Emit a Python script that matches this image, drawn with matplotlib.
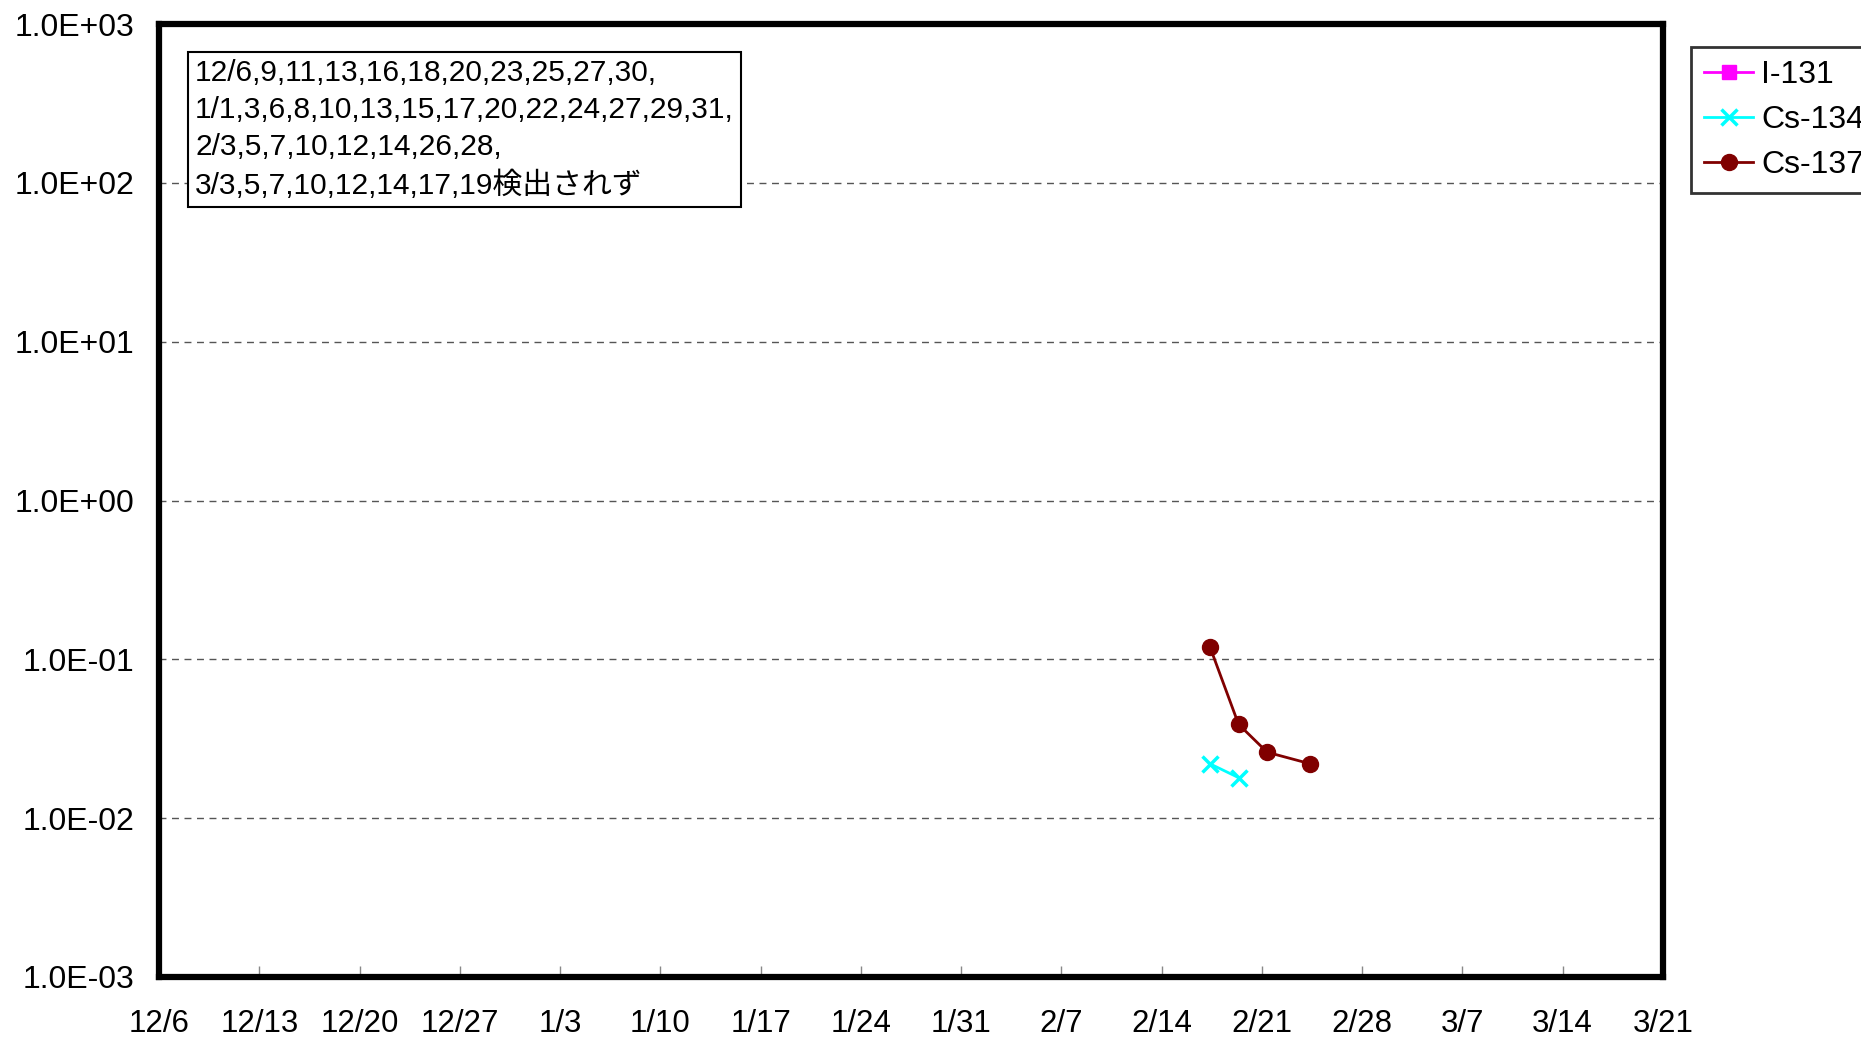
import matplotlib
matplotlib.use('Agg')
import matplotlib.pyplot as plt
import matplotlib.dates as mdates
from matplotlib.ticker import FixedLocator, FuncFormatter
from datetime import datetime, timedelta

plt.rcParams['font.family'] = ['Liberation Sans', 'Noto Sans CJK JP', 'DejaVu Sans']

# data (Bq/kg) - only detected values, sampled in the morning
i131_dates = []
i131_vals = []
cs134_dates = ['2014-02-17 09:00', '2014-02-19 09:00']
cs134_vals = [0.022, 0.018]
cs137_dates = ['2014-02-17 09:00', '2014-02-19 09:00', '2014-02-21 09:00', '2014-02-24 09:00']
cs137_vals = [0.12, 0.039, 0.026, 0.022]

note = ("12/6,9,11,13,16,18,20,23,25,27,30,\n"
        "1/1,3,6,8,10,13,15,17,20,22,24,27,29,31,\n"
        "2/3,5,7,10,12,14,26,28,\n"
        "3/3,5,7,10,12,14,17,19検出されず")

x_start = datetime(2013, 12, 6)
x_end = datetime(2014, 3, 21)


def to_dt(lst):
    return [datetime.strptime(d, '%Y-%m-%d %H:%M') for d in lst]


fig = plt.figure(figsize=(18.61, 10.38), dpi=100)
ax = fig.add_axes([0.0855, 0.0588, 0.808, 0.918])

ax.plot(to_dt(i131_dates), i131_vals, color='#ff00ff', marker='s', markersize=10,
        linewidth=2, label='I-131')
ax.plot(to_dt(cs134_dates), cs134_vals, color='#00ffff', marker='x', markersize=11.5,
        markeredgewidth=2.5, linewidth=2, label='Cs-134')
ax.plot(to_dt(cs137_dates), cs137_vals, color='#800000', marker='o', markersize=11.5,
        linewidth=2, label='Cs-137')

ax.set_yscale('log')
ax.set_ylim(1e-3, 1e3)
ax.set_xlim(x_start, x_end)

ax.yaxis.set_major_locator(FixedLocator([10.0 ** k for k in range(-3, 4)]))
ax.yaxis.set_minor_locator(FixedLocator([]))
ax.yaxis.set_major_formatter(FuncFormatter(lambda v, p: '%.1E' % v))
ax.grid(axis='y', color='#555555', linestyle=(0, (5, 4)), linewidth=1)

ticks = []
d = x_start
while d <= x_end:
    ticks.append(d)
    d += timedelta(days=7)
ax.set_xticks(ticks)
ax.xaxis.set_major_formatter(FuncFormatter(
    lambda v, p: '%d/%d' % (mdates.num2date(v).month, mdates.num2date(v).day)))

ax.tick_params(axis='x', direction='in', length=8, width=1, color='#888888',
               labelsize=22.5, pad=23)
ax.tick_params(axis='y', length=0, labelsize=23, pad=18)

for s in ax.spines.values():
    s.set_linewidth(4.5)
    s.set_color('black')

ax.text(0.024, 0.963, note, transform=ax.transAxes, fontsize=21.5, va='top', ha='left',
        linespacing=1.4,
        bbox=dict(boxstyle='square,pad=0.25', facecolor='white', edgecolor='black', linewidth=1.5))

leg = fig.legend(loc='upper left', bbox_to_anchor=(1691 / 1861, 1 - 47 / 1038),
                 fontsize=23, frameon=True, fancybox=False, edgecolor='black',
                 handlelength=1.55, handletextpad=0.25, borderpad=0.4, labelspacing=0.48,
                 borderaxespad=0)
leg.get_frame().set_linewidth(2)

fig.savefig('out.png', dpi=100)
